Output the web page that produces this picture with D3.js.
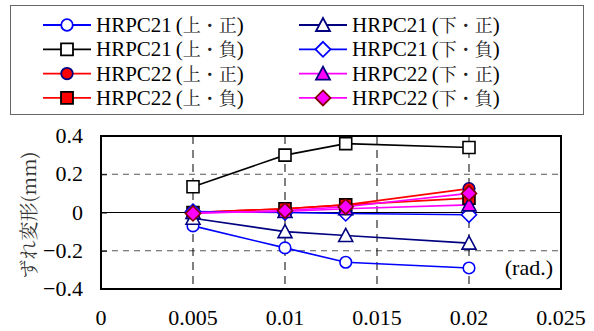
<!DOCTYPE html>
<html>
<head>
<meta charset="utf-8">
<script src="https://cdn.jsdelivr.net/npm/d3@7"></script>
</head>
<body style="margin:0">
<svg id="chart" width="594" height="331" font-family="serif"></svg>
<script>
// drift angle (rad.)
const drift = [0.005, 0.01, 0.0133, 0.02];

// slip deformation (mm) per series
const h21UpPos = [-0.07, -0.185, -0.26, -0.29];
const h21UpNeg = [0.135, 0.30, 0.36, 0.34];
const h22UpPos = [0.0, 0.02, 0.04, 0.125];
const h22UpNeg = [0.0, 0.02, 0.04, 0.075];
const h21LoPos = [-0.03, -0.10, -0.12, -0.16];
const h21LoNeg = [0.005, 0.0, -0.005, -0.012];
const h22LoPos = [0.0, 0.005, 0.02, 0.04];
const h22LoNeg = [-0.005, 0.01, 0.03, 0.10];

const xTicks = [0, 0.005, 0.01, 0.015, 0.02, 0.025];
const yTicks = [-0.4, -0.2, 0, 0.2, 0.4];

const series = [
  { name: 'HRPC21', tag: '上・正', values: h21UpPos, line: '#0000ff', shape: 'circle', fill: '#fff', stroke: '#0000ff' },
  { name: 'HRPC21', tag: '上・負', values: h21UpNeg, line: '#000000', shape: 'square', fill: '#fff', stroke: '#000000' },
  { name: 'HRPC22', tag: '上・正', values: h22UpPos, line: '#ff0000', shape: 'circle', fill: '#ff0000', stroke: '#000080' },
  { name: 'HRPC22', tag: '上・負', values: h22UpNeg, line: '#ff0000', shape: 'square', fill: '#ff0000', stroke: '#000000' },
  { name: 'HRPC21', tag: '下・正', values: h21LoPos, line: '#000080', shape: 'triangle', fill: '#fff', stroke: '#000080' },
  { name: 'HRPC21', tag: '下・負', values: h21LoNeg, line: '#0000ff', shape: 'diamond', fill: '#fff', stroke: '#0000ff' },
  { name: 'HRPC22', tag: '下・正', values: h22LoPos, line: '#ff00ff', shape: 'triangle', fill: '#ff00ff', stroke: '#000080' },
  { name: 'HRPC22', tag: '下・負', values: h22LoNeg, line: '#ff00ff', shape: 'diamond', fill: '#ff00ff', stroke: '#800000' }
];

const SERIF = 'serif';
const CJK = 'Noto Serif CJK JP';

const svg = d3.select('#chart');

const plot = { left: 101, right: 561, top: 136, bottom: 289 };
const x = d3.scaleLinear().domain([0, 0.025]).range([plot.left, plot.right]);
const y = d3.scaleLinear().domain([-0.4, 0.4]).range([plot.bottom, plot.top]);

function markerPath(shape) {
  if (shape === 'circle') return d3.symbol(d3.symbolCircle, 105)();
  if (shape === 'square') return 'M-6,-6H6V6H-6Z';
  if (shape === 'triangle') return 'M0,-7L7,6H-7Z';
  return 'M0,-7.5L7.5,0L0,7.5L-7.5,0Z';
}

function serifText(sel, size) {
  return sel.attr('font-family', SERIF).attr('font-size', size);
}

// legend box
svg.append('rect')
  .attr('x', 10.5).attr('y', 5.5).attr('width', 573).attr('height', 109)
  .attr('fill', '#fff').attr('stroke', '#666').attr('stroke-width', 1);

const legend = svg.append('g');
series.forEach((s, i) => {
  const col = Math.floor(i / 4), row = i % 4;
  const lx = col === 0 ? 43 : 299;
  const ly = 25 + row * 24.3;
  const g = legend.append('g');
  g.append('line').attr('x1', lx).attr('x2', lx + 48).attr('y1', ly).attr('y2', ly)
    .attr('stroke', s.line).attr('stroke-width', 1.8);
  g.append('path').attr('d', markerPath(s.shape))
    .attr('transform', `translate(${lx + 24},${ly})`)
    .attr('fill', s.fill).attr('stroke', s.stroke).attr('stroke-width', 1.8);
  const t = serifText(g.append('text'), 21).attr('x', lx + 53).attr('y', ly + 7);
  t.append('tspan').text(s.name);
  t.append('tspan').attr('dx', 4).text('(');
  t.append('tspan').attr('font-family', CJK)
    .attr('font-size', 18).attr('fill', '#222').text(s.tag);
  t.append('tspan').text(')');
});

// grid lines
const grid = svg.append('g');
[0.2, -0.2].forEach(v => {
  grid.append('line').attr('x1', plot.left).attr('x2', plot.right)
    .attr('y1', y(v)).attr('y2', y(v))
    .attr('stroke', '#555').attr('stroke-width', 1).attr('stroke-dasharray', '6,5');
});
[0.005, 0.01, 0.015, 0.02].forEach(v => {
  grid.append('line').attr('x1', x(v)).attr('x2', x(v))
    .attr('y1', plot.top).attr('y2', plot.bottom)
    .attr('stroke', '#000').attr('stroke-width', 1).attr('stroke-dasharray', '8,6');
});
grid.append('line').attr('x1', plot.left).attr('x2', plot.right)
  .attr('y1', y(0)).attr('y2', y(0)).attr('stroke', '#000').attr('stroke-width', 1);

// y axis (ticks inside)
const yAxis = d3.axisRight(y).tickValues(yTicks).tickSize(6).tickFormat('');
svg.append('g').attr('transform', `translate(${plot.left},0)`).call(yAxis)
  .attr('font-family', null)
  .call(g => g.select('.domain').remove())
  .call(g => g.selectAll('line').attr('stroke', '#000'));

serifText(svg.append('g').selectAll('text').data(yTicks).enter().append('text'), 22)
  .attr('x', 83).attr('y', d => y(d) + 7).attr('text-anchor', 'end')
  .text(d => d3.format('')(d));

serifText(svg.append('g').selectAll('text').data(xTicks).enter().append('text'), 22)
  .attr('x', d => x(d)).attr('y', 325).attr('text-anchor', 'middle')
  .text(d => d3.format('')(d));

// plot frame
svg.append('rect')
  .attr('x', plot.left).attr('y', plot.top)
  .attr('width', plot.right - plot.left).attr('height', plot.bottom - plot.top)
  .attr('fill', 'none').attr('stroke', '#000').attr('stroke-width', 2);

// axis titles
svg.append('text').attr('font-family', CJK)
  .attr('font-size', 19).attr('fill', '#333')
  .attr('transform', 'translate(36,215) rotate(-90)').attr('text-anchor', 'middle')
  .text('ずれ変形(mm)');
serifText(svg.append('text'), 22)
  .attr('x', 553).attr('y', 275).attr('text-anchor', 'end').text('(rad.)');

// series
const lineGen = d3.line().x((d, i) => x(drift[i])).y(d => y(d));
const marks = svg.append('g');
series.forEach(s => {
  marks.append('path').attr('d', lineGen(s.values))
    .attr('fill', 'none').attr('stroke', s.line).attr('stroke-width', 1.6);
});
series.forEach(s => {
  marks.append('g').selectAll('path').data(s.values).enter().append('path')
    .attr('d', markerPath(s.shape))
    .attr('transform', (d, i) => `translate(${x(drift[i])},${y(d)})`)
    .attr('fill', s.fill).attr('stroke', s.stroke).attr('stroke-width', 1.6);
});
</script>
</body>
</html>
